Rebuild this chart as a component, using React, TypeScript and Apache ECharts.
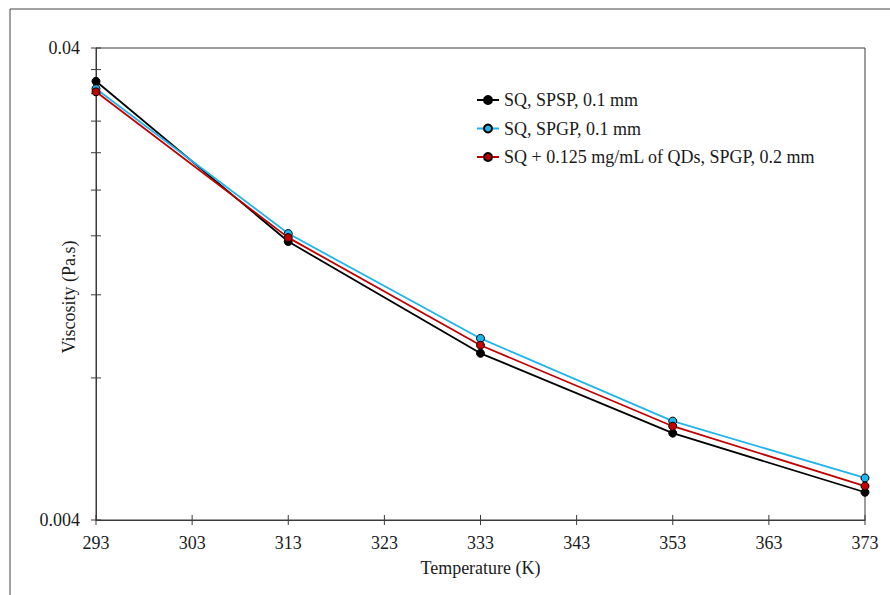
import React, { useEffect, useRef } from "react";
import * as echarts from "echarts";

const temps = [293, 313, 333, 353, 373];
const xTickLabels = ["293", "303", "313", "323", "333", "343", "353", "363", "373"];
const seriesNames = [
  "SQ, SPSP, 0.1 mm",
  "SQ, SPGP, 0.1 mm",
  "SQ + 0.125 mg/mL of QDs, SPGP, 0.2 mm",
];
const spspValues = [0.034, 0.01556, 0.00902, 0.00611, 0.00458];
const spgpValues = [0.0328, 0.01618, 0.0097, 0.00648, 0.00491];
const qdValues = [0.0323, 0.01586, 0.00938, 0.00632, 0.00472];
const yMin = 0.004;
const yMax = 0.04;
const yTickValues = [0.004, 0.008, 0.012, 0.016, 0.02, 0.024, 0.028, 0.032, 0.036, 0.04];
const yLabelValues = ["0.004", "0.04"];

const colors = ["#000000", "#1fb4ec", "#c00000"];
const FONT = "'Liberation Serif', 'Times New Roman', serif";
const AXIS_COLOR = "#3a3a3a";
const TEXT_COLOR = "#1a1a1a";

export default function App() {
  const ref = useRef<HTMLDivElement>(null);
  useEffect(() => {
    if (!ref.current) return;
    const chart = echarts.init(ref.current, null, { renderer: "svg" });
    const valueSets = [spspValues, spgpValues, qdValues];
    const dataSeries = valueSets.map((vals, i) => ({
      name: seriesNames[i],
      type: "line",
      data: temps.map((t, j) => [String(t), vals[j]]),
      symbol: "circle",
      symbolSize: 8,
      lineStyle: { color: colors[i], width: 1.8 },
      itemStyle: { color: colors[i], borderColor: "#000", borderWidth: 1 },
      z: 3 + i,
    }));
    chart.setOption({
      animation: false,
      backgroundColor: "#ffffff",
      textStyle: { fontFamily: FONT },
      graphic: [
        {
          type: "rect",
          shape: { x: 10, y: 9, width: 1000, height: 700 },
          style: { fill: "none", stroke: "#444", lineWidth: 1 },
          silent: true,
        },
      ],
      grid: {
        left: 96,
        right: 25,
        top: 48,
        bottom: 75,
        show: true,
        borderColor: AXIS_COLOR,
        borderWidth: 1,
      },
      legend: {
        data: seriesNames,
        orient: "vertical",
        left: 471,
        top: 86,
        itemWidth: 22,
        itemHeight: 10,
        itemGap: 10.5,
        textStyle: { fontFamily: FONT, fontSize: 18, color: TEXT_COLOR },
      },
      xAxis: {
        type: "category",
        data: xTickLabels,
        boundaryGap: false,
        name: "Temperature (K)",
        nameLocation: "middle",
        nameGap: 39,
        nameMoveOverlap: false,
        nameTextStyle: { fontFamily: FONT, fontSize: 18, color: TEXT_COLOR },
        axisLine: { lineStyle: { color: AXIS_COLOR, width: 1 } },
        axisTick: { show: false },
        axisLabel: { fontFamily: FONT, fontSize: 18, color: TEXT_COLOR, margin: 14 },
        splitLine: { show: false },
      },
      yAxis: {
        type: "log",
        logBase: 10,
        min: yMin,
        max: yMax,
        name: "Viscosity (Pa.s)",
        nameLocation: "middle",
        nameGap: 18,
        nameMoveOverlap: false,
        nameTextStyle: {
          fontFamily: FONT,
          fontSize: 18,
          color: TEXT_COLOR,
          padding: [0, 26, 0, 0],
        },
        axisLine: { show: true, lineStyle: { color: AXIS_COLOR, width: 1 } },
        axisTick: { show: false },
        splitLine: { show: false },
        minorTick: { show: false },
        axisLabel: {
          fontFamily: FONT,
          fontSize: 18,
          color: TEXT_COLOR,
          margin: 16,
          showMinLabel: true,
          showMaxLabel: true,
          formatter: (v: number) => {
            for (const s of yLabelValues) {
              if (Math.abs(v - parseFloat(s)) < parseFloat(s) * 1e-3) return s;
            }
            return "";
          },
        },
      },
      series: [
        {
          type: "custom",
          coordinateSystem: "cartesian2d",
          silent: true,
          clip: false,
          z: 1,
          data: yTickValues.map((v) => [0, v]),
          renderItem: (params: any, api: any) => {
            const p = api.coord([api.value(0), api.value(1)]);
            return {
              type: "line",
              shape: { x1: p[0] - 5, y1: p[1], x2: p[0] + 5, y2: p[1] },
              style: { stroke: AXIS_COLOR, lineWidth: 1 },
            };
          },
        },
        {
          type: "custom",
          coordinateSystem: "cartesian2d",
          silent: true,
          clip: false,
          z: 1,
          data: xTickLabels.map((_, i) => [i, yMin]),
          renderItem: (params: any, api: any) => {
            const p = api.coord([api.value(0), api.value(1)]);
            return {
              type: "line",
              shape: { x1: p[0], y1: p[1] - 5, x2: p[0], y2: p[1] + 5 },
              style: { stroke: AXIS_COLOR, lineWidth: 1 },
            };
          },
        },
        ...dataSeries,
      ],
    });
    return () => chart.dispose();
  }, []);
  return (
    <div
      ref={ref}
      style={{ position: "absolute", left: 0, top: 0, width: 890, height: 595 }}
    />
  );
}
